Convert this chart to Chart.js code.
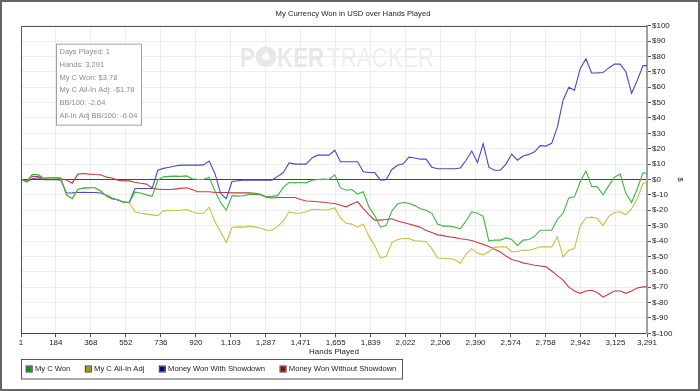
<!DOCTYPE html>
<html>
<head>
<meta charset="utf-8">
<script src="https://cdn.jsdelivr.net/npm/chart.js@4.4.1/dist/chart.umd.min.js"></script>
<style>
html,body{margin:0;padding:0;background:#fff;}
canvas{display:block;}
</style>
</head>
<body>
<canvas id="c" width="700" height="391"></canvas>
<script>
// ---- data ----
const hands = [1,30,60,90,120,150,180,210,240,270,300,330,360,390,420,450,480,510,540,570,600,630,660,690,720,750,780,810,840,870,900,930,960,990,1020,1050,1080,1110,1140,1170,1200,1230,1260,1290,1320,1350,1380,1410,1440,1470,1500,1530,1560,1590,1620,1650,1680,1710,1740,1770,1800,1830,1860,1890,1920,1950,1980,2010,2040,2070,2100,2130,2160,2190,2220,2250,2280,2310,2340,2370,2400,2430,2460,2490,2520,2550,2580,2610,2640,2670,2700,2730,2760,2790,2820,2850,2880,2910,2940,2970,3000,3030,3060,3090,3120,3150,3180,3210,3240,3270,3291];

const myCWon = [
 0,-1.5,3.2,3.2,0.8,1,1.2,1,-10,-12.5,
 -6.5,-5.6,-5.4,-5.4,-7.5,-10.8,-12.7,-13,-15,-15,
 -8.2,-8.8,-10,-11,-0.5,1.7,2,2.2,2,2.3,
 0.5,0,0,1.5,-7.5,-15,-20,-10.5,-10.8,-10.6,
 -9.7,-9.5,-10,-11.3,-11,-10.5,-5,-2,-2.2,-2,
 -2.2,-0.5,0,0.2,0,3,-5.5,-7,-6.5,-9.5,
 -8,-18,-23.5,-31,-30,-20.5,-16,-15,-15.5,-17,
 -19,-20,-22,-29,-30.3,-30.3,-31,-32,-27,-21,
 -22,-24,-40,-39.4,-39.4,-38,-39,-43,-39.4,-39,
 -37,-33,-33,-33,-26,-22,-12,-11.3,-1.5,5.5,
 -4.5,-4.8,-10,-4,1.5,3.5,-9,-15,-6,4.5,
 3.78];

const myCAllInAdj = [
 0,-1.5,3.2,3.2,0.8,1,1.2,1,-10,-12.5,
 -6.5,-5.6,-5.4,-5.4,-7.5,-10.8,-12.7,-13,-15,-15,
 -21,-22,-22.5,-23,-23.5,-20.4,-20,-20.3,-20,-19.5,
 -21,-22,-22,-18,-27.5,-34,-41,-31,-30.8,-31,
 -30.5,-30.8,-31.5,-33,-33,-30.5,-27,-21,-22,-22,
 -21,-19.5,-19.5,-19.8,-19.5,-18.5,-25,-28.5,-29,-31,
 -29,-37,-43,-51,-50,-41,-39,-38.4,-38.4,-40,
 -40,-40.5,-45,-51,-51.4,-51.4,-52,-54.5,-48.5,-45,
 -48,-49,-47,-44,-43.8,-43.8,-47,-47,-45.9,-46,
 -45,-43.8,-43.8,-43.8,-37.3,-50.3,-46,-44.9,-30,-25,
 -24.5,-25.4,-30,-24,-21.5,-21,-23,-19,-12.5,-2.5,
 -1.78];

const wonWithShowdown = [
 0,-1.5,0.5,1.1,-0.2,-0.2,-0.2,-0.3,-8.8,-8.7,
 -8.5,-8.4,-8.5,-8.5,-8.8,-10.2,-12,-13.5,-14.5,-15,
 -5.9,-5.9,-5.9,-5.9,6,7.2,8,8.8,9.3,9.3,
 9.3,9.3,9.5,12,3.9,-9,-12.5,-1.3,-0.8,-0.4,
 -0.4,-0.4,-0.4,-0.4,-0.4,2,4.5,10.8,10,10,
 10,14,15.8,15.8,15.8,19,11.5,11.5,11.5,11.5,
 5,4.5,4.5,-0.4,-0.2,6.5,9.2,10.2,14.5,14,
 13.2,13.2,8,7,7,7,7,7.5,12.5,18.5,
 11,23.2,8,6,6,10,16.5,12.5,15.2,16.3,
 18,22,21.7,23.5,34,51.5,60,58,72,78.5,
 69.2,69.3,69.5,72.5,75,75,70,56,64.5,74,
 74];

const wonWithoutShowdown = [
 0,-1,2,2,0.6,1.3,1.3,0.5,-0.4,-2.4,
 3.5,3.9,3.5,3.2,3,1.5,1,-0.5,-0.9,-0.9,
 -1.8,-2.5,-3,-5.5,-6.3,-6.5,-6.5,-6.3,-5.8,-5.4,
 -6.5,-8,-8,-8,-8.5,-8.5,-8.5,-8.7,-8.7,-8.7,
 -8.7,-9,-9.7,-11.5,-12,-11.7,-11.7,-11.7,-11.7,-13,
 -14,-14.2,-14.5,-14.8,-15.3,-15.6,-16.8,-17.8,-16,-14.5,
 -19,-23,-26.4,-26.4,-26,-25.5,-27,-28,-29,-30,
 -31,-33.2,-34.5,-36,-36.5,-37.2,-37.8,-38.5,-39,-39.7,
 -41,-42.2,-43.5,-45.3,-47.2,-49.8,-52,-53,-54.2,-55,
 -55.8,-56.3,-56.8,-59.5,-62.5,-65.4,-70,-72.5,-74,-72.5,
 -72,-73.5,-76.5,-74.5,-72.5,-72.5,-74,-72.5,-70.5,-69.8,
 -69.8];

const xTickHands = [1,184,368,552,736,920,1103,1287,1471,1655,1839,2022,2206,2390,2574,2758,2942,3125,3291];
const seriesNames = ['My C Won','My C All-In Adj','Money Won With Showdown','Money Won Without Showdown'];
const lineColors = ['#3fb43f','#c4c040','#4848c8','#c83c3c'];
const legendColors = ['#00a000','#a0a000','#0000a0','#a00000'];
const infoLines = ['Days Played: 1','Hands: 3,291','My C Won: $3.78','My C All-In Adj: -$1.78','BB/100: -2.64','All-In Adj BB/100: -6.04'];
const chartTitle = 'My Currency Won in USD over Hands Played';
const xTitle = 'Hands Played';
const yTitle = '$';
const watermarkBold = ['P','KER'];
const watermarkLight = 'TRACKER';

const FONT = "'Liberation Sans', Arial, sans-serif";
Chart.defaults.font.family = FONT;
Chart.defaults.color = '#222';

const seriesValues = [myCWon, myCAllInAdj, wonWithShowdown, wonWithoutShowdown];

const decor = {
  id: 'decor',
  beforeDatasetsDraw(chart) {
    const ctx = chart.ctx, a = chart.chartArea;
    ctx.save();
    const x0 = a.left + 219, base = a.top + 41;
    const boldCol = '#e8e8e8', lightCol = '#eeeeee';
    ctx.textBaseline = 'alphabetic';
    ctx.fillStyle = boldCol;
    ctx.save();
    ctx.translate(x0, base); ctx.scale(0.8, 1);
    ctx.font = "bold 28px " + FONT;
    ctx.fillText(watermarkBold[0], 0, 0);
    ctx.restore();
    // chip
    const cx = x0 + 26, cy = base - 10, r = 10.5;
    ctx.beginPath(); ctx.arc(cx, cy, r, 0, Math.PI * 2); ctx.fillStyle = boldCol; ctx.fill();
    ctx.fillStyle = '#fff';
    ctx.font = "13px 'DejaVu Sans', sans-serif";
    ctx.textAlign = 'center'; ctx.textBaseline = 'middle';
    ctx.fillText('\u2660', cx, cy + 0.5);
    ctx.textAlign = 'left'; ctx.textBaseline = 'alphabetic';
    ctx.fillStyle = boldCol;
    ctx.save();
    ctx.translate(x0 + 37, base); ctx.scale(0.8, 1);
    ctx.font = "bold 28px " + FONT;
    ctx.fillText(watermarkBold[1], 0, 0);
    ctx.restore();
    ctx.save();
    ctx.fillStyle = lightCol;
    ctx.translate(x0 + 87, base); ctx.scale(0.8, 1);
    ctx.font = "28px " + FONT;
    ctx.fillText(watermarkLight, 0, 0);
    ctx.restore();
    ctx.restore();
  },
  afterDraw(chart) {
    const ctx = chart.ctx, a = chart.chartArea;
    ctx.save();
    // top & left frame of the plot
    ctx.strokeStyle = '#555'; ctx.lineWidth = 1;
    const t = Math.round(a.top) + 0.5, l = Math.round(a.left) + 0.5;
    ctx.beginPath();
    ctx.moveTo(l, Math.round(a.bottom)); ctx.lineTo(l, t); ctx.lineTo(Math.round(a.right), t);
    ctx.stroke();
    // info box
    const bx = a.left + 35.5, by = a.top + 18.5, bw = 85, bh = 81;
    ctx.fillStyle = 'rgba(255,255,255,0.9)';
    ctx.fillRect(bx, by, bw, bh);
    ctx.strokeStyle = '#a0a0a0';
    ctx.strokeRect(bx, by, bw, bh);
    ctx.fillStyle = '#8c8c8c';
    ctx.font = "7.5px " + FONT;
    ctx.textBaseline = 'middle';
    infoLines.forEach((s, i) => ctx.fillText(s, bx + 3, by + 8 + i * 12.75));
    // legend
    ctx.font = "7.6px " + FONT;
    let x = 26.7;
    const ly = 369;
    const gap = 15.5;
    seriesNames.forEach((name, i) => {
      ctx.fillStyle = legendColors[i];
      ctx.fillRect(x, ly - 2.5, 5, 5);
      ctx.strokeStyle = '#333';
      ctx.strokeRect(x - 0.5, ly - 3, 6, 6);
      ctx.fillStyle = '#222';
      ctx.fillText(name, x + 8.3, ly);
      x = x + 8.3 + ctx.measureText(name).width + gap;
    });
    const lr = x - gap + 5.7;
    ctx.strokeStyle = '#555';
    ctx.strokeRect(21.5, 359.5, Math.round(lr - 21.5), 19.5);
    // outer frame
    ctx.strokeStyle = '#666'; ctx.lineWidth = 2;
    ctx.strokeRect(1, 1, 698, 389);
    ctx.restore();
  }
};

new Chart(document.getElementById('c'), {
  type: 'line',
  data: {
    datasets: seriesNames.map((name, i) => ({
      label: name,
      data: hands.map((h, j) => ({x: h, y: seriesValues[i][j]})),
      borderColor: lineColors[i],
      backgroundColor: lineColors[i],
      borderWidth: 1.1,
      pointRadius: 0,
      tension: 0,
      fill: false
    }))
  },
  options: {
    responsive: false,
    animation: false,
    devicePixelRatio: 1,
    layout: {padding: {left: 21, right: 15, top: 0, bottom: 34.2}},
    plugins: {
      legend: {display: false},
      tooltip: {enabled: false},
      title: {
        display: true, text: chartTitle, color: '#222',
        font: {size: 7.7, weight: 'normal'},
        padding: {top: 9.4, bottom: 7}
      }
    },
    scales: {
      x: {
        type: 'linear', min: 1, max: 3291,
        afterBuildTicks: s => { s.ticks = xTickHands.map(v => ({value: v})); },
        afterFit: s => { s.height = 23.5; },
        ticks: {autoSkip: false, maxRotation: 0, padding: 1, font: {size: 8}, color: '#222',
          callback: v => Number(v).toLocaleString('en-US')},
        grid: {color: '#ededed', tickColor: '#555', tickLength: 4},
        border: {color: '#444', width: 1},
        title: {display: true, text: xTitle, font: {size: 8}, color: '#222', padding: {top: 0, bottom: 0}}
      },
      y: {
        position: 'right', min: -100, max: 100,
        afterFit: s => { s.width = 38; },
        ticks: {stepSize: 10, padding: 1, font: {size: 8}, color: '#222', callback: v => '$' + v},
        grid: {color: c => (c.tick && c.tick.value === 0) ? '#444' : '#ededed', tickColor: '#555', tickLength: 4},
        border: {color: '#a0a0a0', width: 2},
        title: {display: true, text: yTitle, font: {size: 8}, color: '#222', padding: {top: 0, bottom: 0}}
      }
    }
  },
  plugins: [decor]
});
</script>
</body>
</html>
